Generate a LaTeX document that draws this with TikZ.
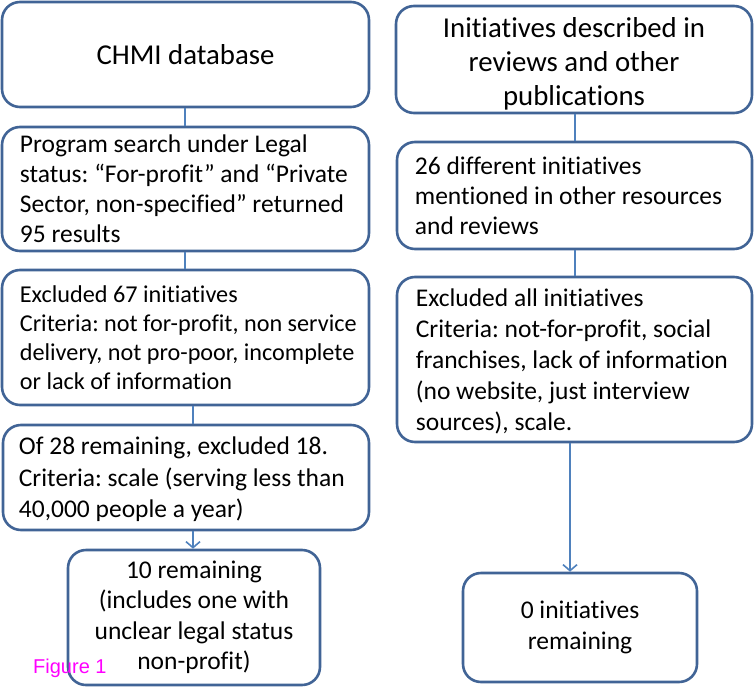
\documentclass[tikz,border=0pt]{standalone}
\usepackage{fontspec}
\setmainfont{Carlito}[Ligatures={NoCommon}]
\newfontfamily\figfont{Liberation Sans}
\usetikzlibrary{arrows.meta}
\definecolor{boxline}{RGB}{65,100,150}
\definecolor{conline}{RGB}{79,129,189}
\definecolor{figmag}{RGB}{255,0,255}
\tikzset{
  boxshape/.style={draw=boxline, line width=2.6pt, rounded corners=18pt, fill=white, inner sep=0pt},
  bodytext/.style={inner sep=0pt, font=\fontsize{25.5}{30}\selectfont\frenchspacing, align=left, anchor=west},
  headtext/.style={inner sep=0pt, font=\fontsize{28.8}{34}\selectfont\frenchspacing, align=center},
  endtext/.style={inner sep=0pt, font=\fontsize{25.5}{30.5}\selectfont\frenchspacing, align=center},
  conn/.style={draw=conline, line width=1.6pt},
  connarrow/.style={conn, -{Straight Barb[length=6pt,width=14pt,line width=1.6pt]}},
}
% box: name, x1, y1, x2, y2
\newcommand{\flowrect}[5]{%
  \node[boxshape, minimum width=#4-#2, minimum height=#5-#3]
    (#1) at ({(#2+#4)/2},{(#3+#5)/2}) {};}
\begin{document}
\begin{tikzpicture}[x=1pt,y=-1pt]
\useasboundingbox (0,0) rectangle (754,687);
% left column boxes
\flowrect{B1}{2}{2}{369}{107}
\flowrect{B2}{2}{127}{369}{251}
\flowrect{B3}{2}{270}{369}{405}
\flowrect{B4}{3}{425}{369}{530}
\flowrect{B5}{68}{550}{320}{685}
% right column boxes
\flowrect{R1}{396}{6}{752}{113}
\flowrect{R2}{397}{142}{752}{249}
\flowrect{R3}{397}{277}{752}{442}
\flowrect{R4}{463}{573}{697}{682}
% texts
\node[headtext] (B1t) at (B1.center) {CHMI database};
\node[bodytext] (B2t) at ([xshift=19pt]B2.west) {Program search under Legal\\status: “For-profit” and “Private\\Sector, non-specified” returned\\95 results};
\node[bodytext, font=\fontsize{24.2}{29}\selectfont\frenchspacing] (B3t) at ([xshift=19pt]B3.west) {Excluded 67 initiatives\\Criteria: not for-profit, non service\\delivery, not pro-poor, incomplete\\or lack of information};
\node[bodytext, font=\fontsize{25.5}{31.5}\selectfont\frenchspacing] (B4t) at ([xshift=17pt,yshift=-2pt]B4.west) {Of 28 remaining, excluded 18.\\Criteria: scale (serving less than\\40,000 people a year)};
\node[endtext] (B5t) at (B5.center) {10 remaining\\(includes one with\\unclear legal status\\non-profit)};
\node[headtext] (R1t) at ([yshift=-4pt]R1.center) {Initiatives described in\\reviews and other\\publications};
\node[bodytext] (R2t) at ([xshift=19pt]R2.west) {26 different initiatives\\mentioned in other resources\\and reviews};
\node[bodytext, font=\fontsize{25.5}{31}\selectfont\frenchspacing] (R3t) at ([xshift=20pt,yshift=-2pt]R3.west) {Excluded all initiatives\\Criteria: not-for-profit, social\\franchises, lack of information\\(no website, just interview\\sources), scale.};
\node[endtext] (R4t) at (R4.center) {0 initiatives\\remaining};
% connector columns
\coordinate (cxa) at (185,0);
\coordinate (cxb) at (193,0);
\coordinate (cxc) at (575,0);
\coordinate (cxd) at (570,0);
\draw[conn] (B1.south -| cxa) -- (B2.north -| cxa);
\draw[conn] (B2.south -| cxa) -- (B3.north -| cxa);
\draw[conn] (B3.south -| cxb) -- (B4.north -| cxb);
\draw[connarrow] (B4.south -| cxb) -- (B5.north -| cxb);
\draw[conn] (R1.south -| cxc) -- (R2.north -| cxc);
\draw[conn] (R2.south -| cxc) -- (R3.north -| cxc);
\draw[connarrow] (R3.south -| cxd) -- (R4.north -| cxd);
\node[anchor=base west, inner sep=0pt, text=figmag, font=\figfont\fontsize{20}{24}\selectfont] (fig) at (33,673) {Figure 1};
\end{tikzpicture}
\end{document}
